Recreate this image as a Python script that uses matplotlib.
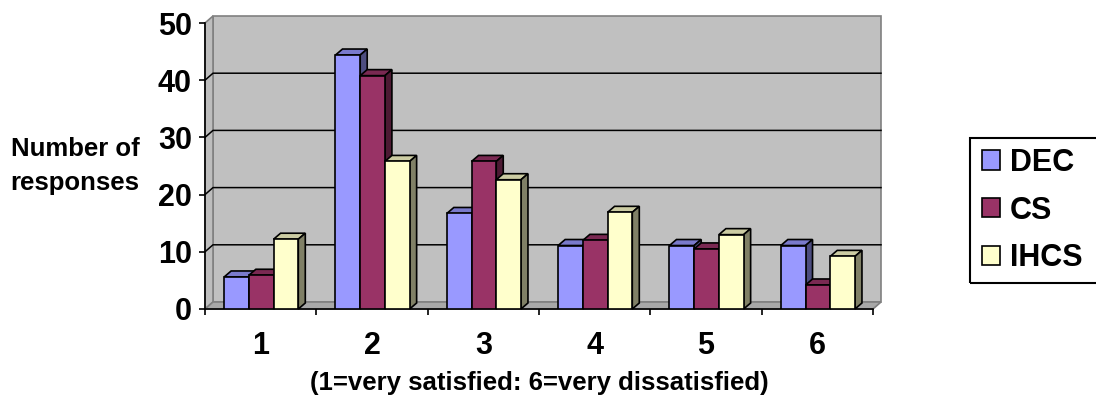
import matplotlib
matplotlib.use("Agg")
import matplotlib.pyplot as plt
from matplotlib.patches import Polygon, Patch, Rectangle

# Survey responses (%) by satisfaction rating
categories = ["1", "2", "3", "4", "5", "6"]
series_names = ["DEC", "CS", "IHCS"]
dec = [5.6, 44.4, 16.7, 11.1, 11.1, 11.1]
cs = [5.9, 40.8, 25.8, 12.0, 10.5, 4.2]
ihcs = [12.2, 25.8, 22.6, 16.9, 13.0, 9.2]
y_ticks = [0, 10, 20, 30, 40, 50]

front_colors = ["#9999FF", "#993366", "#FFFFCC"]
top_colors = ["#7A7ACC", "#7A2952", "#CCCCA3"]
side_colors = ["#4D4D80", "#4D1A33", "#808066"]

plt.rcParams["font.family"] = ["Liberation Sans", "DejaVu Sans"]
plt.rcParams["font.weight"] = "bold"

W, H, DPI = 1096, 411, 100
fig = plt.figure(figsize=(W / DPI, H / DPI), dpi=DPI)
left_px, right_px, top_px, bottom_px = 205, 873, 23, 309
ax = fig.add_axes([left_px / W, 1 - bottom_px / H,
                   (right_px - left_px) / W, (bottom_px - top_px) / H])
n = len(categories)
ymax = y_ticks[-1]
ax.set_xlim(0, n)
ax.set_ylim(0, ymax)
ax.patch.set_visible(False)

px_x = (right_px - left_px) / n
px_y = (bottom_px - top_px) / ymax


def dx(p):
    return p / px_x


def dy(p):
    return p / px_y


wall_dx, wall_dy = dx(8), dy(7)
bar_dx, bar_dy = dx(7), dy(6)

# walls and floor
wall_kw = dict(edgecolor="#808080", linewidth=1.2, clip_on=False, zorder=0.5)
ax.add_patch(Polygon([(wall_dx, wall_dy), (n + wall_dx, wall_dy),
                      (n + wall_dx, ymax + wall_dy), (wall_dx, ymax + wall_dy)],
                     facecolor="#C0C0C0", **wall_kw))
ax.add_patch(Polygon([(0, 0), (wall_dx, wall_dy), (wall_dx, ymax + wall_dy), (0, ymax)],
                     facecolor="#BDBDBD", **wall_kw))
ax.add_patch(Polygon([(0, 0), (n, 0), (n + wall_dx, wall_dy), (wall_dx, wall_dy)],
                     facecolor="#A8A8A8", **wall_kw))

# gridlines on back and side walls
for v in y_ticks[1:-1]:
    ax.plot([0, wall_dx, n + wall_dx], [v, v + wall_dy, v + wall_dy],
            color="black", linewidth=1.1, clip_on=False, zorder=1)

# bars
bar_w = 0.222
offset = 0.172
series = [dec, cs, ihcs]
for k, vals in enumerate(series):
    xs = [i + offset + k * bar_w for i in range(n)]
    bars = ax.bar(xs, vals, width=bar_w, align="edge", color=front_colors[k],
                  edgecolor="black", linewidth=1.2, label=series_names[k])
    for i, (b, h) in enumerate(zip(bars, vals)):
        z = 3 + (i * 3 + k) * 0.01
        b.set_zorder(z)
        x0 = xs[i]
        ax.add_patch(Polygon([(x0, h), (x0 + bar_w, h), (x0 + bar_w + bar_dx, h + bar_dy),
                              (x0 + bar_dx, h + bar_dy)], facecolor=top_colors[k],
                             edgecolor="black", linewidth=1.2, zorder=z - 0.001,
                             clip_on=False))
        ax.add_patch(Polygon([(x0 + bar_w, 0), (x0 + bar_w + bar_dx, bar_dy),
                              (x0 + bar_w + bar_dx, h + bar_dy), (x0 + bar_w, h)],
                             facecolor=side_colors[k], edgecolor="black", linewidth=1.2,
                             zorder=z - 0.001, clip_on=False))

# axes
for s in ["top", "right"]:
    ax.spines[s].set_visible(False)
for s in ["left", "bottom"]:
    ax.spines[s].set_color("black")
    ax.spines[s].set_linewidth(1.2)
    ax.spines[s].set_zorder(2)

ax.set_yticks(y_ticks)
ax.set_yticklabels([str(t) for t in y_ticks])
ax.tick_params(axis="y", direction="out", length=4.5, width=1.2, pad=5,
               labelsize=22)
ax.set_xticks([i + 0.5 for i in range(n)])
ax.set_xticklabels(categories)
ax.set_xticks(range(n + 1), minor=True)
ax.tick_params(axis="x", which="major", length=0, pad=15.5, labelsize=22)
ax.tick_params(axis="x", which="minor", direction="out", length=4.5, width=1.2)

fig.text(75 / W, 1 - 166 / H, "Number of\nresponses", ha="center", va="center",
         fontsize=18.5, fontweight="bold", linespacing=1.55)
fig.text(539 / W, 1 - 383 / H, "(1=very satisfied: 6=very dissatisfied)",
         ha="center", va="center", fontsize=18.5, fontweight="bold")

# legend, with its box running past the right edge of the figure
handles = [Patch(facecolor=c, edgecolor="black", linewidth=1.2) for c in front_colors]
leg = fig.legend(handles, series_names, loc="center left",
                 bbox_to_anchor=(970 / W, 1 - 210.5 / H), frameon=False,
                 prop={"size": 22, "weight": "bold"},
                 handlelength=0.59, handleheight=0.59, handletextpad=0.33,
                 labelspacing=0.58, borderpad=0.38, borderaxespad=0)
fig.add_artist(Rectangle((970 / W, 1 - 283 / H), 140 / W, 145 / H,
                         transform=fig.transFigure, fill=False, edgecolor="black",
                         linewidth=1.5))

fig.savefig("out.png", dpi=DPI)
